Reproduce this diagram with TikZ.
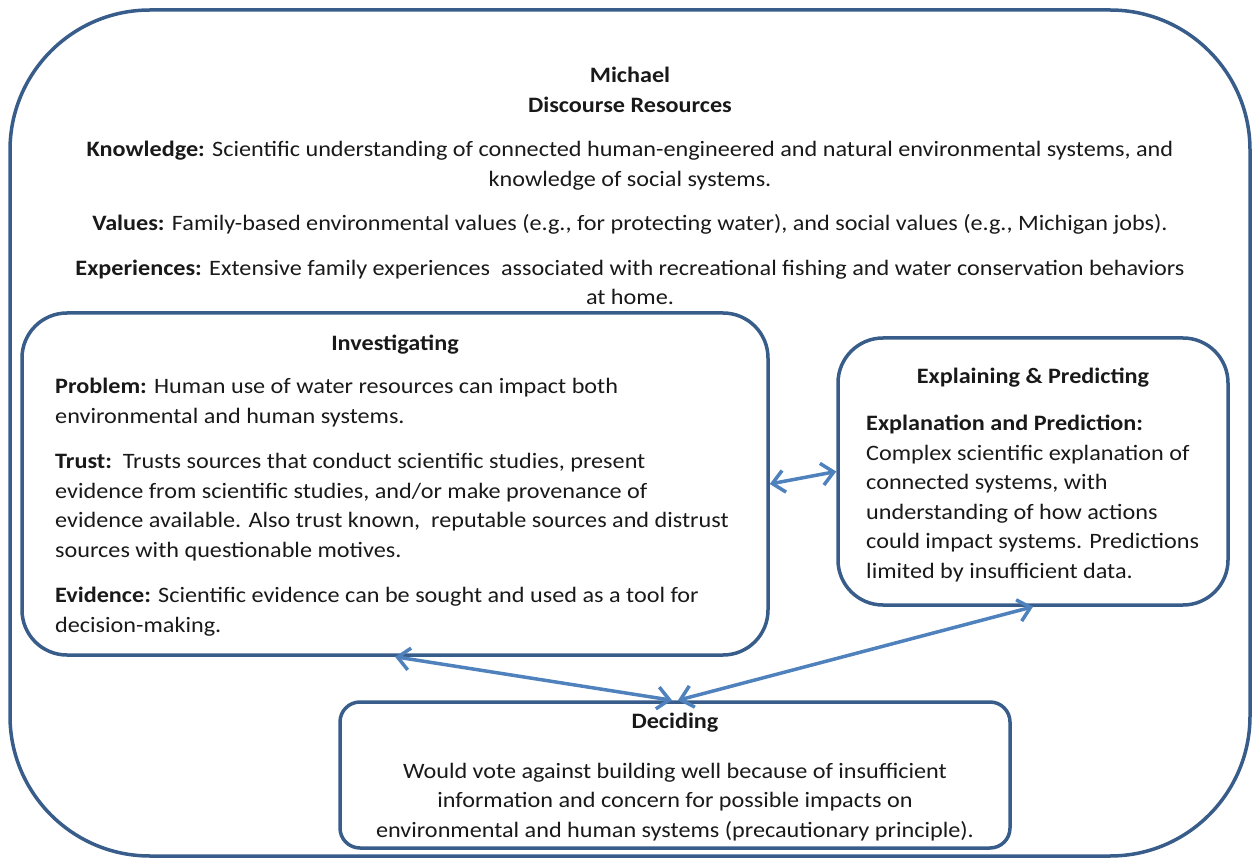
\documentclass[tikz,border=0pt]{standalone}
\usepackage{fontspec}
\setmainfont{Carlito}[FakeStretch=1.1]
\usetikzlibrary{arrows.meta,positioning}
\definecolor{boxblue}{RGB}{56,93,138}
\definecolor{lineblue}{RGB}{79,129,189}
\definecolor{texti}{RGB}{25,25,25}
\tikzset{
          frame/.style={draw=boxblue,line width=3.5pt,rounded corners=#1,inner sep=0pt},
          frame/.default=45pt,
          texto/.style={font=\fontsize{22}{29.5}\selectfont,text=texti,inner sep=0pt},
          title/.style={texto,font=\fontsize{22}{29.5}\selectfont\bfseries},
          link/.style={draw=lineblue,line width=3.5pt,
            {Straight Barb[length=12pt,width=22pt]}-{Straight Barb[length=12pt,width=22pt]}}
        }
\newcommand\Lbl[1]{\textbf{#1:}}

\begin{document}
\begin{tikzpicture}[x=1pt,y=-1pt]
            \useasboundingbox (0,0) rectangle (1253,858);

            % boxes
            \node[frame=140pt,minimum width=1240pt,minimum height=846pt] (outer) at (630,433) {};
            \node[frame,minimum width=746pt,minimum height=342pt] (inv) at (395,484) {};
            \node[frame,minimum width=390pt,minimum height=267pt] (expl) at (1033,471.5) {};
            \node[frame=20pt,minimum width=670pt,minimum height=146pt] (dec) at (675,775) {};

            % resources (base = last line)
            \node[texto,align=center,anchor=base] (res) at (630,305)
            {\textbf{Michael}\\ \textbf{Discourse Resources}\\[15pt]
              \Lbl{Knowledge} Scientific understanding of connected human-engineered and natural environmental systems, and\\
              knowledge of social systems.\\[15pt]
              \Lbl{Values} Family-based environmental values (e.g., for protecting water), and social values (e.g., Michigan jobs).\\[15pt]
              \Lbl{Experiences} Extensive family experiences\ \ associated with recreational fishing and water conservation behaviors\\
              at home.};

            % investigating
            \node[title,anchor=base] (invT) at (inv.center |- 0,351) {Investigating};
            \node[texto,align=left,anchor=base west] (invB) at (55,632)
            {\Lbl{Problem} Human use of water resources can impact both\\
              environmental and human systems.\\[16pt]
              \Lbl{Trust}\ \ Trusts sources that conduct scientific studies, present\\
              evidence from scientific studies, and/or make provenance of\\
              evidence available. Also trust known,\ \ reputable sources and distrust\\
              sources with questionable motives.\\[16pt]
              \Lbl{Evidence} Scientific evidence can be sought and used as a tool for\\
              decision-making.};

            % explaining and predicting
            \node[title,anchor=base] (explT) at (expl.center |- 0,384) {Explaining \& Predicting};
            \node[texto,align=left,anchor=base west] (explB) at (866,578)
            {\Lbl{Explanation and Prediction}\\
              Complex scientific explanation of\\
              connected systems, with\\
              understanding of how actions\\
              could impact systems. Predictions\\
              limited by insufficient data.};

            % deciding
            \node[title,anchor=base] (decT) at (dec.center |- 0,728) {Deciding};
            \node[texto,align=center,anchor=base] (decB) at (dec.center |- 0,837)
            {Would vote against building well because of insufficient\\
              information and concern for possible impacts on\\
              environmental and human systems (precautionary principle).};

            % links
            \draw[link] (inv.east) -- (expl.west);
            \draw[link] (inv.south) -- ([xshift=-3pt]dec.north);
            \draw[link] ([xshift=3pt]dec.north) -- (expl.south);

          \end{tikzpicture}
\end{document}
